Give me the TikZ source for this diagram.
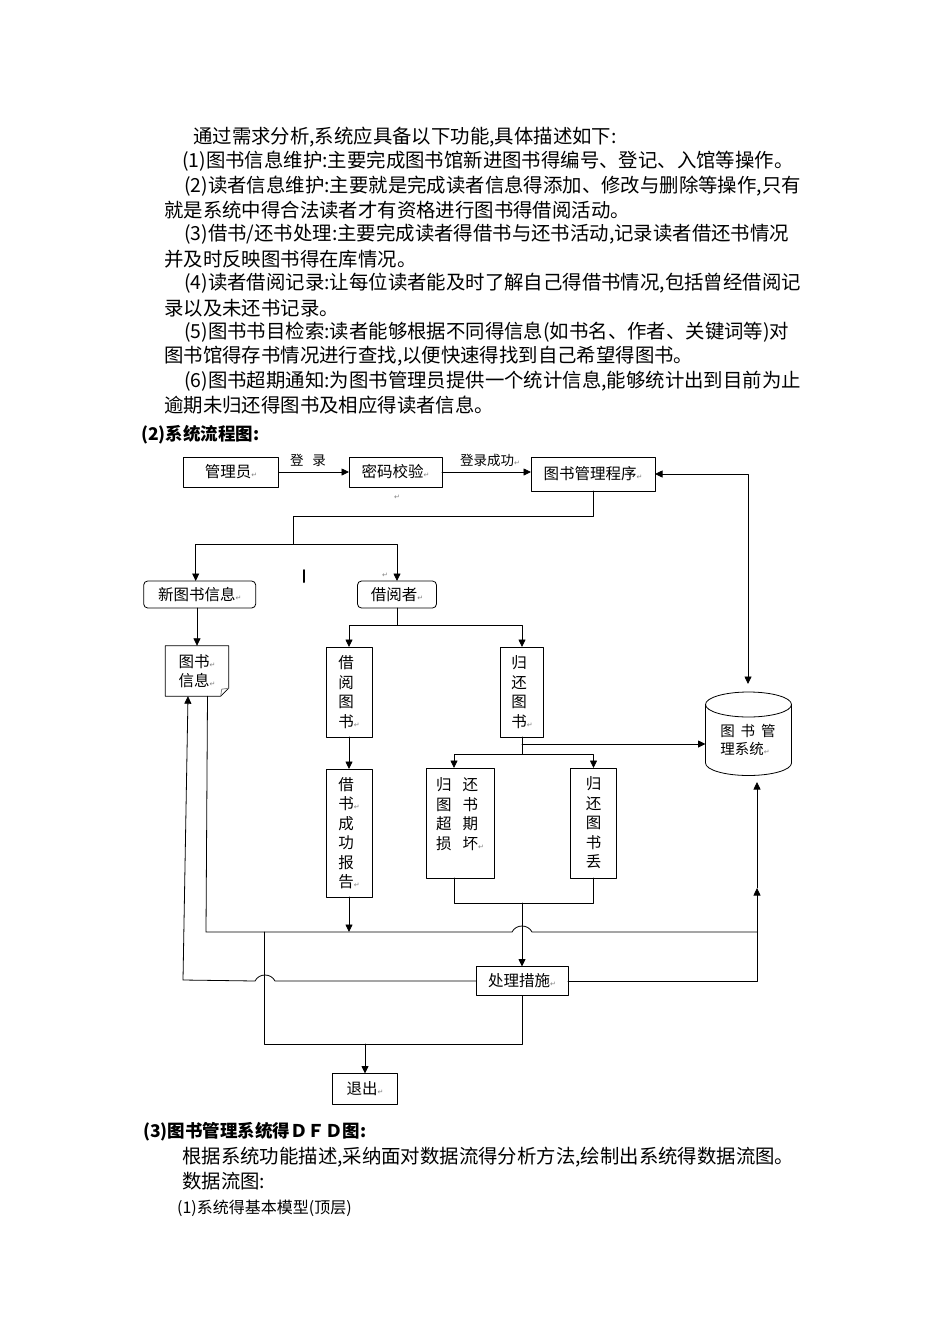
\documentclass[tikz,border=0pt]{standalone}
\usepackage{fontspec}
\setmainfont{Noto Sans CJK SC}
\newfontfamily\dejavu{DejaVu Sans}
\usetikzlibrary{arrows.meta}

% Word paragraph mark as printed in the labels
\newcommand\pmark{{\dejavu\fontsize{7}{7}\selectfont\textcolor{gray}{↵}}}

\begin{document}
\begin{tikzpicture}[x=1pt, y=-1pt, line cap=round, line join=round]
  \tikzset{
    txt/.style={anchor=west, inner sep=0pt, font=\fontsize{19.4}{19.4}\selectfont},
    hd/.style={anchor=west, inner sep=0pt, font=\bfseries\fontsize{17.5}{17.5}\selectfont},
    box/.style={draw=black, line width=0.8pt, inner sep=0pt, outer sep=0pt, align=center,
      font=\fontsize{15.5}{19.5}\selectfont},
    rbox/.style={box, rounded corners=4pt},
    vbox/.style={box, align=left},
    lbl/.style={inner sep=0pt, font=\fontsize{13.5}{13.5}\selectfont},
    line/.style={line width=0.8pt, draw=black},
    arr/.style={line, -{Triangle[length=7.5pt, width=7pt]}},
    twoarr/.style={line, {Triangle[length=7.5pt, width=7pt]}-{Triangle[length=7.5pt, width=7pt]}}
  }
  \useasboundingbox (0,0) rectangle (950,1344);

  % text above the chart
  \node[txt] (p1)  at (193,137) {通过需求分析,系统应具备以下功能,具体描述如下:};
  \node[txt] (p2)  at (182,161.4) {(1)图书信息维护:主要完成图书馆新进图书得编号、登记、入馆等操作。};
  \node[txt] (p3)  at (184,185.8) {(2)读者信息维护:主要就是完成读者信息得添加、修改与删除等操作,只有};
  \node[txt] (p3b) at (164,210.2) {就是系统中得合法读者才有资格进行图书得借阅活动。};
  \node[txt] (p4)  at (184,234.6) {(3)借书/还书处理:主要完成读者得借书与还书活动,记录读者借还书情况};
  \node[txt] (p4b) at (164,259) {并及时反映图书得在库情况。};
  \node[txt] (p5)  at (184,283.4) {(4)读者借阅记录:让每位读者能及时了解自己得借书情况,包括曾经借阅记};
  \node[txt] (p5b) at (164,307.8) {录以及未还书记录。};
  \node[txt] (p6)  at (184,332.2) {(5)图书书目检索:读者能够根据不同得信息(如书名、作者、关键词等)对};
  \node[txt] (p6b) at (164,356.6) {图书馆得存书情况进行查找,以便快速得找到自己希望得图书。};
  \node[txt] (p7)  at (184,381) {(6)图书超期通知:为图书管理员提供一个统计信息,能够统计出到目前为止};
  \node[txt] (p7b) at (164,405.4) {逾期未归还得图书及相应得读者信息。};
  \node[hd] (h2) at (141,435) {(2)系统流程图:};

  % flow chart
  \node[box, minimum width=95, minimum height=30] (gly) at (231,472) {管理员\pmark};
  \node[box, minimum width=93, minimum height=30] (mmjy) at (395.5,472) {密码校验\pmark};
  \node[box, minimum width=124, minimum height=34] (glcx) at (593,474) {图书管理程序\pmark};
  \node[lbl] (dl) at (308,460) {登\hspace{9pt}录};
  \node[lbl] (dlcg) at (490,460) {登录成功\pmark};
  \node[inner sep=0pt] (pm1) at (397,497) {\pmark};
  \node[inner sep=0pt] (pm2) at (385,575) {\pmark};
  \draw[line width=2pt] (304,570) -- (304,582);

  \node[rbox, minimum width=112, minimum height=27] (xts) at (199.7,594.5) {新图书信息\pmark};
  \node[rbox, minimum width=79, minimum height=27] (jyz) at (397,594.5) {借阅者\pmark};
  \node[inner sep=0pt, minimum width=63, minimum height=50, align=left,
    font=\fontsize{15.5}{19}\selectfont] (tsxx) at (197,671) {图书\pmark\\信息\pmark};
  \draw[line] (tsxx.north west) -- (tsxx.north east) -- ([yshift=8pt]tsxx.south east)
    -- ([xshift=-8pt]tsxx.south east) -- (tsxx.south west) -- cycle;
  \draw[line, gray] ([yshift=8pt]tsxx.south east) -- ([xshift=-7pt, yshift=7pt]tsxx.south east)
    -- ([xshift=-8pt]tsxx.south east);

  \node[vbox, minimum width=46, minimum height=90] (jyts) at (349,692) {借\\阅\\图\\书\pmark};
  \node[vbox, minimum width=43, minimum height=90] (ghts) at (522,692) {归\\还\\图\\书\pmark};
  \node[vbox, minimum width=46, minimum height=128] (jscg) at (349,833)
    {借\\书\pmark\\成\\功\\报\\告\pmark};
  \node[vbox, minimum width=68, minimum height=110] (ghcq) at (460,823)
    {归\hspace{11pt}还\\图\hspace{11pt}书\\超\hspace{11pt}期\\损\hspace{11pt}坏\pmark\\ \mbox{}};
  \node[box, minimum width=46, minimum height=110] (ghds) at (593.5,823) {归\\还\\图\\书\\丢};
  \node[box, minimum width=92, minimum height=29] (clcs) at (522,981) {处理措施\pmark};
  \node[box, minimum width=65, minimum height=31] (tc) at (365,1089) {退出\pmark};

  % database cylinder
  \node[inner sep=0pt, align=left, font=\fontsize{14.5}{18}\selectfont] (tsgl) at (748,740)
    {图\hspace{6pt}书\hspace{6pt}管\\理系统\pmark};
  \draw[line] (748.5,704.5) ellipse [x radius=43, y radius=12.5];
  \draw[line] (705.5,704.5) -- (705.5,763) arc [start angle=180, end angle=0, x radius=43, y radius=12.5]
    -- (791.5,704.5);

  \coordinate (cyltop) at (748,684);
  \coordinate (cylw) at (705.5,744);
  \coordinate (cylb) at (757,782);
  \coordinate (fork1) at (293,544);
  \coordinate (fork2) at (397,625);
  \coordinate (fork3) at (522,754);
  \coordinate (join1) at (522,903);
  \coordinate (l1) at (264,932);
  \coordinate (r1) at (757,932);
  \coordinate (r2) at (757,888);
  \coordinate (exitj) at (365,1044);

  \draw[arr] (gly.east) -- (mmjy.west);
  \draw[arr] (mmjy.east) -- (mmjy.east -| glcx.west);
  \draw[twoarr] (glcx.east) -| (cyltop);

  \draw[line] (glcx.south) |- (293,516) -- (fork1);
  \draw[arr] (fork1) -| ([xshift=-4pt]xts.north);
  \draw[arr] (fork1) -| (jyz.north);
  \draw[arr] (tsxx.north |- xts.south) -- (tsxx.north);

  \draw[line] (jyz.south) -- (fork2);
  \draw[arr] (fork2) -| (jyts.north);
  \draw[arr] (fork2) -| (ghts.north);
  \draw[arr] (jyts) -- (jscg);

  \draw[line] (ghts.south) -- (fork3);
  \draw[arr] (ghts.south |- cylw) -- (cylw);
  \draw[arr] (fork3) -| ([xshift=-6pt]ghcq.north);
  \draw[arr] (fork3) -| (ghds.north);

  \draw[line] ([xshift=-6pt]ghcq.south) |- (join1) -| (ghds.south);
  \draw[arr] (join1) -- (clcs.north);
  \draw[arr] (jscg.south) -- (jscg.south |- r1);

  % lines round the left and the bottom
  \draw[line] ([xshift=10.5pt]tsxx.south) -- (206,932) -- (512,932)
    .. controls (516,924) and (528,924) .. (532,932) -- (r1);
  \draw[arr] (clcs.west) -- (275,981) .. controls (271,973) and (259,973) .. (255,981)
    -- (183,980) -- ([xshift=-9pt]tsxx.south);
  \draw[line] (l1) |- (exitj) -| (clcs.south);
  \draw[arr] (exitj) -- (tc.north);
  \draw[line] (clcs.east) -| (r1);
  \draw[arr] (r1) -- (r2);
  \draw[arr] (r2) -- (cylb);

  % text below the chart
  \node[hd] (h3) at (143,1132) {(3)图书管理系统得ＤＦＤ图:};
  \node[txt] (q1) at (182,1157) {根据系统功能描述,采纳面对数据流得分析方法,绘制出系统得数据流图。};
  \node[txt] (q2) at (182,1181) {数据流图:};
  \node[txt, font=\fontsize{16}{16}\selectfont] (q3) at (177,1208) {(1)系统得基本模型(顶层)};
\end{tikzpicture}
\end{document}
